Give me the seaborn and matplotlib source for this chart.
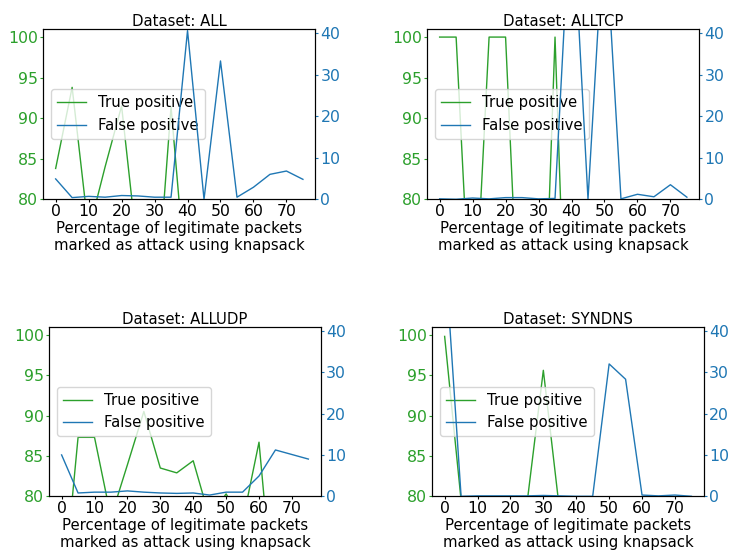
import matplotlib
matplotlib.use("Agg")
import matplotlib.pyplot as plt
import seaborn as sns
import pandas as pd

# Percentage of legitimate packets marked as attack
pct = [0, 5, 10, 15, 20, 25, 30, 35, 40, 45, 50, 55, 60, 65, 70, 75]

datasets = ["ALL", "ALLTCP", "ALLUDP", "SYNDNS"]

# True positive rate (%) per dataset
tp_all = [83.8, 93.8, 76.0, 84.0, 91.5, 73.0, 64.3, 91.4, 67.6, 70.2, 66.5, 72.0, 68.4, 71.3, 69.0, 73.5]
tp_alltcp = [100.0, 100.0, 60.0, 100.0, 100.0, 55.0, 42.0, 100.0, 40.0, 45.0, 38.0, 50.0, 42.0, 47.0, 40.0, 44.0]
tp_alludp = [65.8, 87.3, 87.3, 77.4, 83.9, 90.5, 83.5, 82.9, 84.4, 77.3, 80.3, 76.8, 86.7, 64.4, 66.0, 62.0]
tp_syndns = [99.8, 79.5, 79.3, 79.2, 79.4, 79.0, 95.6, 78.0, 78.5, 78.2, 77.8, 78.4, 78.1, 77.9, 78.3, 78.0]

# False positive rate (%) per dataset
fp_all = [4.9, 0.4, 0.7, 0.5, 0.9, 0.8, 0.5, 0.5, 40.6, 0.0, 33.3, 0.5, 2.9, 6.0, 6.8, 4.8]
fp_alltcp = [0.1, 0.0, 0.3, 0.1, 0.4, 0.4, 0.1, 0.2, 75.0, 0.0, 68.0, 0.1, 1.2, 0.6, 3.5, 0.5]
fp_alludp = [10.0, 0.8, 1.0, 1.0, 1.3, 1.0, 0.8, 0.7, 0.8, 0.3, 1.0, 1.0, 4.9, 11.2, 10.1, 9.0]
fp_syndns = [60.0, 0.0, 0.1, 0.1, 0.1, 0.1, 0.2, 0.1, 0.0, 0.0, 32.0, 28.3, 0.3, 0.1, 0.3, 0.0]

tp_series = [tp_all, tp_alltcp, tp_alludp, tp_syndns]
fp_series = [fp_all, fp_alltcp, fp_alludp, fp_syndns]

GREEN = "#2ca02c"
BLUE = "#1f77b4"
FS = 10.7
TICK_FS = 11.3
TICK_LEN = 2.2
TICK_PAD = 1.5

fig = plt.figure(figsize=(7.30, 5.56), dpi=100)
positions = [
    [0.0593, 0.6416, 0.3726, 0.3063],
    [0.5853, 0.6416, 0.3726, 0.3063],
    [0.0675, 0.1074, 0.3718, 0.3050],
    [0.5922, 0.1074, 0.3718, 0.3050],
]

for name, tp, fp, pos in zip(datasets, tp_series, fp_series, positions):
    df = pd.DataFrame({"pct": pct, "tp": tp, "fp": fp})
    ax1 = fig.add_axes(pos)
    ax2 = ax1.twinx()

    sns.lineplot(data=df, x="pct", y="tp", ax=ax1, color=GREEN, linewidth=1.0,
                 label="True positive", legend=False)
    sns.lineplot(data=df, x="pct", y="fp", ax=ax2, color=BLUE, linewidth=1.0,
                 label="False positive", legend=False)

    ax1.set_ylim(80, 101)
    ax2.set_ylim(0, 41)
    ax1.set_yticks([80, 85, 90, 95, 100])
    ax2.set_yticks([0, 10, 20, 30, 40])
    ax1.set_xticks(range(0, 80, 10))

    ax1.tick_params(axis="y", colors=GREEN, labelsize=TICK_FS, length=TICK_LEN, pad=TICK_PAD)
    ax2.tick_params(axis="y", colors=BLUE, labelsize=TICK_FS, length=TICK_LEN, pad=TICK_PAD)
    ax1.tick_params(axis="x", labelsize=TICK_FS, length=TICK_LEN, pad=TICK_PAD)

    ax1.set_ylabel("")
    ax2.set_ylabel("")
    ax1.set_xlabel("Percentage of legitimate packets\nmarked as attack using knapsack",
                   fontsize=FS, labelpad=1)
    ax1.set_title(f"Dataset: {name}", fontsize=FS, pad=2)

    handles = ax1.get_lines() + ax2.get_lines()
    labels = [h.get_label() for h in handles]
    ax1.legend(handles, labels, loc="center left", fontsize=FS)

fig.savefig("out.png", dpi=100)
